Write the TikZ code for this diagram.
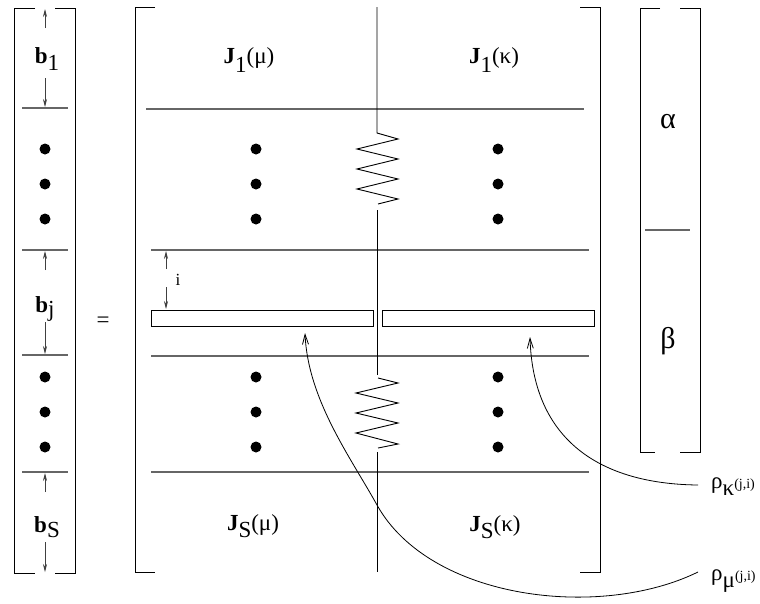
\documentclass[tikz,border=0pt]{standalone}
\usepackage{fontspec}
\setmainfont{Liberation Serif}
\usetikzlibrary{arrows.meta}
\begin{document}
\begin{tikzpicture}[x=1pt,y=-1pt,
  frame/.style={line width=0.9pt, black},
  sep/.style={line width=1.3pt, black!60},
  dim/.style={line width=0.7pt, black!75, -{Stealth[length=8pt,width=4pt]}},
  lead/.style={line width=0.8pt, -{Straight Barb[length=10pt,width=6pt]}},
  lbl/.style={inner sep=0pt, anchor=base, font=\fontsize{23}{27}\selectfont},
  gk/.style={inner sep=0pt, anchor=base, font=\fontsize{30}{34}\selectfont},
  dotn/.style={circle, fill, inner sep=0pt, minimum size=11pt},
]
\useasboundingbox (0,0) rectangle (760,603);

% ---------- left vector b ----------
\draw[frame] (35,8) -- (14,8) -- (14,573) -- (35,573);
\draw[frame] (55,8) -- (75,8) -- (75,573) -- (55,573);
\draw[sep] (22,108) -- (68,108);
\draw[sep] (22,250) -- (68,250);
\draw[sep] (22,355) -- (68,355);
\draw[sep] (22,472) -- (68,472);

\node[lbl] (b1) at (47,63) {{\bfseries b}\raisebox{-7pt}{1}};
\node[lbl] (bj) at (45,312) {{\bfseries b}\raisebox{-4pt}{j}};
\node[lbl] (bS) at (47,532) {{\bfseries b}\raisebox{-5pt}{S}};

\coordinate (b1t) at (45,9);   \coordinate (b1b) at (45,107);
\coordinate (bjt) at (45,251); \coordinate (bjb) at (45,354);
\coordinate (bSt) at (45,473); \coordinate (bSb) at (45,572);
\draw[dim] (45,28) -- (b1t);
\draw[dim] (45,78) -- (b1b);
\draw[dim] (45,270) -- (bjt);
\draw[dim] (45,322) -- (bjb);
\draw[dim] (45,492) -- (bSt);
\draw[dim] (45,542) -- (bSb);

\foreach \n/\y in {1/149,2/184,3/219,4/377,5/412,6/447}
  \node[dotn] (ld\n) at (45,\y) {};

\node[lbl] (eq) at (103,327) {=};

% ---------- main matrix ----------
\draw[frame] (155,7) -- (135,7) -- (135,572) -- (155,572);
\draw[frame] (580,7) -- (600,7) -- (600,572) -- (580,572);

\draw[sep] (146,109) -- (584,109);
\draw[sep] (151,250) -- (589,250);
\draw[sep] (151,356) -- (589,356);
\draw[sep] (151,472) -- (589,472);

\draw[frame] (377,7) -- (377,133) -- (398,139) -- (357,149) -- (398,159)
  -- (357,169) -- (398,179) -- (357,189) -- (398,199) -- (378,204);
\draw[frame] (377,210) -- (377,375);
\draw[frame] (378,378) -- (398,383) -- (356,393) -- (398,403) -- (356,413)
  -- (398,423) -- (356,433) -- (398,444) -- (378,448);
\draw[frame] (377,452) -- (377,572);

\node[draw, line width=0.8pt, inner sep=0pt, minimum width=222pt, minimum height=16pt] (barL) at (262,318) {};
\node[draw, line width=0.8pt, inner sep=0pt, minimum width=212pt, minimum height=16pt] (barR) at (488,318) {};

\coordinate (it) at (166,251);
\coordinate (ib) at (166,309);
\draw[dim] (166,269) -- (it);
\draw[dim] (166,287) -- (ib);
\node[lbl, font=\fontsize{17}{19}\selectfont] (ilab) at (178,285) {i};

\node[lbl] (J1m) at (249,63) {{\bfseries J}\raisebox{-9pt}{1}(μ)};
\node[lbl] (J1k) at (494,63) {{\bfseries J}\raisebox{-9pt}{1}(κ)};
\node[lbl] (JSm) at (253,530) {{\bfseries J}\raisebox{-7pt}{S}(μ)};
\node[lbl] (JSk) at (495,531) {{\bfseries J}\raisebox{-7pt}{S}(κ)};

\foreach \n/\y in {1/149,2/184,3/219,4/377,5/412,6/447}{
  \node[dotn] (md\n) at (256,\y) {};
  \node[dotn] (kd\n) at (498,\y) {};
}

% ---------- right vector ----------
\draw[frame] (660,8) -- (640,8) -- (640,452) -- (655,452);
\draw[frame] (680,8) -- (700,8) -- (700,452) -- (680,452);
\draw[sep] (645,230) -- (690,230);
\node[gk] (al) at (668,128) {α};
\node[gk] (be) at (668,348) {β};

% ---------- rho labels and leaders ----------
\node[lbl, anchor=base west] (rk) at (711,488)
  {ρ\raisebox{-7pt}{κ}{\fontsize{14}{16}\selectfont(j,i)}};
\node[lbl, anchor=base west] (rm) at (711,580)
  {ρ\raisebox{-7pt}{μ}{\fontsize{14}{16}\selectfont(j,i)}};

\coordinate (rkEnd) at (698,485);
\coordinate (rkTip) at (530,337);
\coordinate (rmEnd) at (698,572);
\coordinate (rmTip) at (305,333);
\coordinate (rmMid) at (377,505);

\draw[lead] (rkEnd) .. controls (600,484) and (533,440) .. (rkTip);
\draw[lead] (rmEnd) .. controls (600,620) and (430,600) .. (rmMid)
  .. controls (351,458) and (308,400) .. (rmTip);
\end{tikzpicture}
\end{document}
